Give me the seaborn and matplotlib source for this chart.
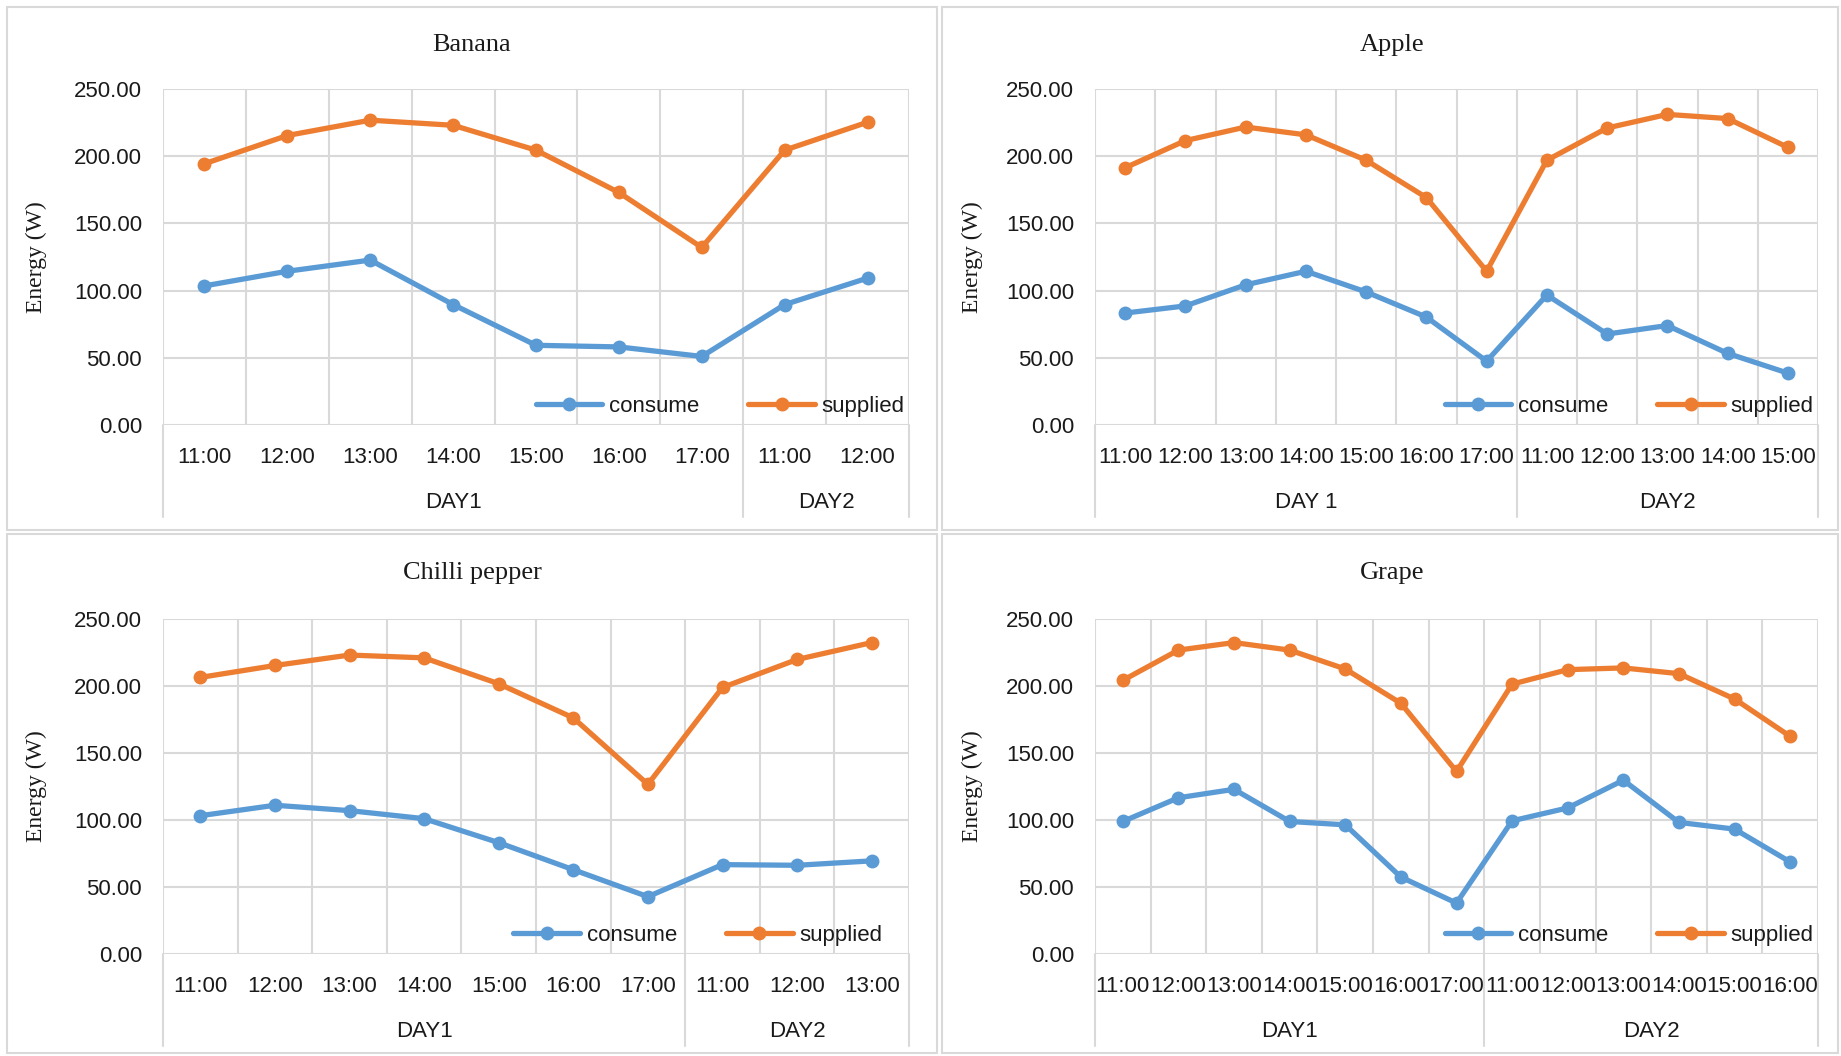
import pandas as pd
import matplotlib.pyplot as plt
import matplotlib.transforms as mtransforms
from matplotlib.patches import Rectangle
import seaborn as sns

# values, Energy (W)
banana_times = ["11:00", "12:00", "13:00", "14:00", "15:00", "16:00", "17:00", "11:00", "12:00"]
banana_days = ["DAY1", "DAY2"]
banana_day_sizes = [7, 2]
banana_consume = [103.5, 114.4, 122.7, 89.6, 59.3, 58.1, 51.0, 89.6, 109.3]
banana_supplied = [194.4, 215.4, 226.8, 223.0, 204.5, 173.0, 132.1, 204.5, 225.3]

apple_times = ["11:00", "12:00", "13:00", "14:00", "15:00", "16:00", "17:00",
               "11:00", "12:00", "13:00", "14:00", "15:00"]
apple_days = ["DAY 1", "DAY2"]
apple_day_sizes = [7, 5]
apple_consume = [83.3, 88.6, 104.3, 114.4, 99.0, 80.3, 47.5, 96.7, 67.7, 74.0, 53.3, 38.6]
apple_supplied = [191.4, 211.6, 221.7, 215.9, 197.0, 169.2, 114.4, 197.0, 221.0, 231.1, 228.0, 206.6]

chilli_times = ["11:00", "12:00", "13:00", "14:00", "15:00", "16:00", "17:00", "11:00", "12:00", "13:00"]
chilli_days = ["DAY1", "DAY2"]
chilli_day_sizes = [7, 3]
chilli_consume = [103.2, 111.0, 107.0, 101.0, 83.1, 62.9, 42.8, 66.7, 66.2, 69.5]
chilli_supplied = [206.4, 215.3, 223.1, 221.0, 201.7, 176.2, 126.6, 198.9, 219.8, 232.4]

grape_times = ["11:00", "12:00", "13:00", "14:00", "15:00", "16:00", "17:00",
               "11:00", "12:00", "13:00", "14:00", "15:00", "16:00"]
grape_days = ["DAY1", "DAY2"]
grape_day_sizes = [7, 6]
grape_consume = [98.9, 116.6, 122.9, 98.9, 96.4, 57.4, 38.0, 99.4, 109.0, 129.7, 98.2, 93.2, 68.7]
grape_supplied = [204.2, 226.8, 232.4, 226.8, 212.7, 187.1, 136.2, 201.4, 212.2, 213.5, 209.2, 190.3, 162.4]

series_names = ["consume", "supplied"]
y_ticks = [0, 50, 100, 150, 200, 250]

sns.set_theme(style="white")
plt.rcParams["font.family"] = ["Liberation Sans", "DejaVu Sans"]

BLUE = "#5B9BD5"
ORANGE = "#ED7D31"
GRID = "#D9D9D9"
TEXT = "#1a1a1a"

W, H = 1841, 1056
fig = plt.figure(figsize=(W / 100, H / 100), dpi=100)

# panel frames (pixel boxes: x0, y0, x1, y1)
frames = [(7, 7, 937, 530), (942, 7, 1838, 530), (7, 534, 937, 1053), (942, 534, 1838, 1053)]
for x0, y0, x1, y1 in frames:
    fig.patches.append(Rectangle((x0 / W, 1 - y1 / H), (x1 - x0) / W, (y1 - y0) / H,
                                 transform=fig.transFigure, fill=False,
                                 edgecolor=GRID, linewidth=1.5))


def draw_panel(px_box, title, title_x, title_y, times, days, day_sizes, consume, supplied,
               legend_x=1.0):
    left, top, right, bottom = px_box
    ax = fig.add_axes([left / W, 1 - bottom / H, (right - left) / W, (bottom - top) / H])
    n = len(times)
    df = pd.DataFrame({
        "pos": list(range(n)) * 2,
        "energy": consume + supplied,
        "series": [series_names[0]] * n + [series_names[1]] * n,
    })
    sns.lineplot(data=df, x="pos", y="energy", hue="series", hue_order=series_names,
                 palette=[BLUE, ORANGE], marker="o", markersize=10, markeredgewidth=0,
                 linewidth=3.8, ax=ax, zorder=3)

    ax.set_xlim(-0.5, n - 0.5)
    ax.set_ylim(0, 250)
    ax.set_yticks(y_ticks)
    ax.set_yticklabels([f"{v:.2f}" for v in y_ticks], fontsize=16, color=TEXT)
    ax.set_xticks(range(n))
    ax.set_xticklabels(times, fontsize=16, color=TEXT)
    ax.set_xticks([i - 0.5 for i in range(n + 1)], minor=True)
    ax.tick_params(axis="both", which="both", length=0)
    ax.tick_params(axis="y", pad=15)
    ax.tick_params(axis="x", pad=16)
    ax.grid(False)
    ax.grid(True, axis="y", which="major", color=GRID, linewidth=1.5)
    ax.grid(True, axis="x", which="minor", color=GRID, linewidth=1.5)
    for s in ax.spines.values():
        s.set_visible(False)

    ax.set_xlabel("")
    ax.set_ylabel("Energy (W)", family=["Liberation Serif"], fontsize=17, color=TEXT)
    ax.yaxis.set_label_coords(-0.155, 0.5)

    # multi-level category axis: day separators and day labels
    trans = mtransforms.blended_transform_factory(ax.transData, ax.transAxes)
    edges = [-0.5]
    for size in day_sizes:
        edges.append(edges[-1] + size)
    for e in edges:
        ax.plot([e, e], [0, -0.275], transform=trans, color=GRID, linewidth=1.5, clip_on=False)
    for i, day in enumerate(days):
        ax.text((edges[i] + edges[i + 1]) / 2, -0.232, day, transform=trans,
                ha="center", va="center", fontsize=16, color=TEXT)

    handles, labels = ax.get_legend_handles_labels()
    ax.legend(handles, labels, loc="lower right", bbox_to_anchor=(legend_x, 0.01), ncol=2,
              frameon=False, fontsize=16, handlelength=3.0, columnspacing=2.2,
              handletextpad=0.3, borderaxespad=0, borderpad=0.2, labelcolor=TEXT)

    fig.text(title_x / W, 1 - title_y / H, title, family=["Liberation Serif"], fontsize=19,
             ha="center", va="center", color=TEXT)
    return ax


draw_panel((163, 89, 909, 425), "Banana", 472, 45,
           banana_times, banana_days, banana_day_sizes, banana_consume, banana_supplied)
draw_panel((1095, 89, 1818, 425), "Apple", 1392, 45,
           apple_times, apple_days, apple_day_sizes, apple_consume, apple_supplied,
           legend_x=1.0)
draw_panel((163, 619, 909, 954), "Chilli pepper", 472, 573,
           chilli_times, chilli_days, chilli_day_sizes, chilli_consume, chilli_supplied,
           legend_x=0.97)
draw_panel((1095, 619, 1818, 954), "Grape", 1392, 573,
           grape_times, grape_days, grape_day_sizes, grape_consume, grape_supplied,
           legend_x=1.0)

fig.savefig("out.png", dpi=100)
